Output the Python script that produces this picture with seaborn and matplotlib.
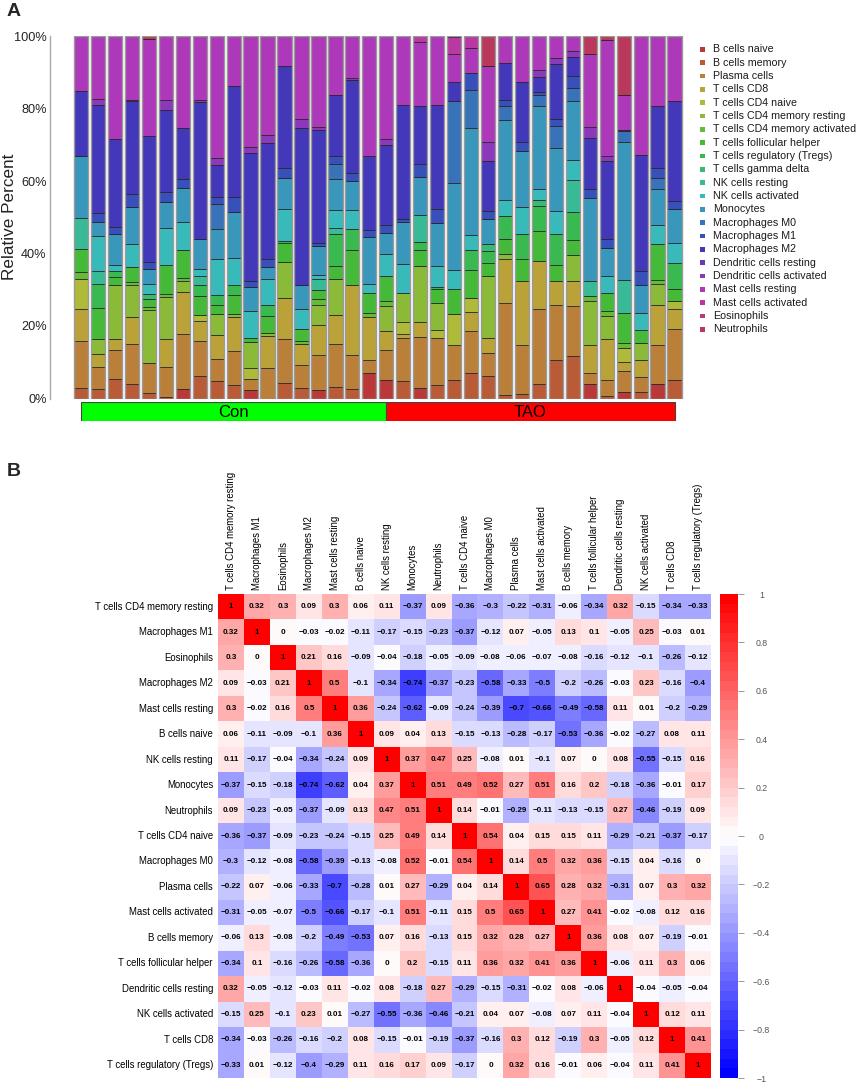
import numpy as np
import pandas as pd
import matplotlib
matplotlib.use("Agg")
import matplotlib.pyplot as plt
import seaborn as sns
from matplotlib.colors import LinearSegmentedColormap, hsv_to_rgb
from matplotlib.patches import Rectangle

# ---------------- Panel A data ----------------
cell_types = ["B cells naive", "B cells memory", "Plasma cells", "T cells CD8",
              "T cells CD4 naive", "T cells CD4 memory resting",
              "T cells CD4 memory activated", "T cells follicular helper",
              "T cells regulatory (Tregs)", "T cells gamma delta",
              "NK cells resting", "NK cells activated", "Monocytes",
              "Macrophages M0", "Macrophages M1", "Macrophages M2",
              "Dendritic cells resting", "Dendritic cells activated",
              "Mast cells resting", "Mast cells activated", "Eosinophils",
              "Neutrophils"]

# percent of each cell type per sample (same order as cell_types)
s1 = [0, 3.0, 13.0, 8.6, 8.3, 0, 2.0, 6.4, 0, 0, 8.6, 0, 17.1, 0, 0, 17.7, 0, 0, 15.3, 0, 0, 0]
s2 = [0, 2.6, 6.1, 3.5, 0, 4.1, 0, 8.8, 6.6, 0, 3.4, 9.7, 3.9, 0, 2.5, 29.9, 0, 1.6, 17.3, 0, 0, 0]
s3 = [0, 5.5, 7.8, 3.2, 0, 14.7, 0, 2.3, 1.6, 0, 0, 1.6, 8.8, 0, 1.8, 24.2, 0, 0, 28.5, 0, 0, 0]
s4 = [0, 4.1, 11.0, 7.4, 0, 8.7, 0.9, 4.2, 0, 0, 0, 6.4, 10.1, 0, 3.7, 25.5, 0, 0.4, 17.6, 0, 0, 0]
s5 = [0, 1.5, 8.4, 0, 0, 14.4, 0.9, 2.3, 0, 1.4, 0, 2.8, 3.9, 0, 2.1, 34.6, 0, 0, 27.0, 0, 0, 0.7]
s6 = [0, 0.3, 8.4, 7.8, 0, 11.5, 0.9, 8.0, 0, 0, 0, 10.2, 7.1, 0, 2.8, 22.5, 0, 2.8, 17.7, 0, 0, 0]
s7 = [2.7, 0, 15.2, 11.5, 0, 2.9, 0.9, 7.9, 0, 0, 0, 7.6, 9.5, 0, 2.3, 14.2, 0, 0, 25.3, 0, 0, 0]
s8 = [0, 6.1, 9.7, 5.5, 1.8, 0, 0, 5.3, 2.8, 0, 2.6, 1.8, 8.5, 0, 0, 37.7, 0, 0.6, 17.6, 0, 0, 0]
s9 = [0, 4.7, 6.1, 6.8, 0, 5.8, 0, 2.5, 2.7, 0, 0, 10.0, 8.1, 7.0, 1.9, 8.7, 0, 2.0, 33.7, 0, 0, 0]
s10 = [0, 3.8, 9.3, 9.4, 0, 0.9, 0, 5.2, 2.6, 0, 0, 7.6, 12.6, 0, 4.2, 30.6, 0, 0, 13.8, 0, 0, 0]
s11 = [2.3, 0, 3.2, 0, 2.9, 7.2, 0, 1.1, 0, 0, 0, 7.4, 6.7, 0, 1.5, 35.5, 0, 1.6, 30.6, 0, 0, 0]
s12 = [0, 0, 8.3, 9.0, 0, 0.8, 0, 4.6, 3.2, 0, 0, 7.0, 3.4, 0, 2.3, 32.0, 0, 2.0, 27.4, 0, 0, 0]
s13 = [0, 4.4, 11.9, 11.5, 0, 9.9, 0, 5.3, 0.4, 0, 0, 9.0, 8.5, 0, 2.7, 28.0, 0, 0, 8.4, 0, 0, 0]
s14 = [0, 2.9, 6.3, 5.9, 0, 0, 0.9, 3.3, 0, 0, 0, 5.5, 6.6, 0, 0, 43.3, 0, 2.3, 23.0, 0, 0, 0]
s15 = [2.3, 0, 9.8, 8.3, 0, 5.3, 1.8, 2.5, 0, 0, 3.0, 1.2, 7.8, 0, 0.9, 31.1, 0, 0.9, 25.1, 0, 0, 0]
s16 = [0, 3.2, 11.9, 7.9, 0, 10.1, 0, 3.4, 8.8, 0, 1.6, 5.0, 8.7, 4.0, 2.2, 17.0, 0, 0, 16.2, 0, 0, 0]
s17 = [0, 2.7, 9.4, 19.1, 0, 0, 0, 9.7, 5.8, 0, 0, 5.4, 7.9, 0, 2.3, 25.7, 0, 0.4, 11.6, 0, 0, 0]
s18 = [7.1, 0, 3.6, 11.8, 0, 0, 1.2, 5.5, 0, 0, 0, 2.3, 13.1, 0, 1.8, 20.5, 0, 0, 33.1, 0, 0, 0]
s19 = [5.0, 0, 8.3, 5.3, 0, 7.0, 1.3, 6.9, 0, 0, 0, 6.2, 5.7, 0, 2.1, 22.2, 0, 1.5, 28.5, 0, 0, 0]
s20 = [0, 4.8, 12.0, 1.1, 3.2, 7.9, 0, 0, 0, 0, 0, 8.0, 11.7, 0, 0.7, 31.7, 0, 0, 18.9, 0, 0, 0]
s21 = [3.0, 0, 14.0, 4.1, 0, 15.4, 0, 4.4, 2.3, 0, 7.3, 0, 10.6, 0, 3.7, 15.9, 0, 0, 17.6, 1.7, 0, 0]
s22 = [0, 3.7, 13.0, 0, 2.1, 7.6, 0, 3.9, 0.5, 0, 0, 5.7, 11.8, 0, 4.1, 28.7, 0, 0, 18.9, 0, 0, 0]
s23 = [0, 5.0, 9.7, 0, 8.7, 0, 0, 6.9, 0, 0, 0, 5.2, 24.0, 22.7, 0, 5.1, 0, 0, 7.6, 4.8, 0, 0.3]
s24 = [0, 6.9, 11.6, 5.4, 3.7, 0, 0, 7.8, 5.5, 0, 0, 4.1, 29.7, 10.5, 4.6, 0, 0, 0, 6.8, 3.4, 0, 0]
s25 = [0, 6.1, 6.5, 4.1, 0, 17.1, 0, 3.6, 3.2, 2.1, 0, 0, 6.9, 0, 2.0, 13.8, 0, 5.4, 20.8, 0, 0, 8.4]
s26 = [0, 1.1, 25.3, 12.2, 0, 1.4, 0, 3.9, 6.4, 0, 0, 4.5, 22.1, 3.8, 1.7, 10.2, 0, 0, 7.4, 0, 0, 0]
s27 = [0, 1.3, 13.4, 17.6, 0, 0, 0, 6.3, 6.7, 0, 0, 7.4, 15.5, 0, 2.6, 16.6, 0, 0, 12.6, 0, 0, 0]
s28 = [0, 4.1, 20.5, 13.3, 0, 0, 0, 8.3, 6.9, 1.6, 0, 3.2, 22.8, 3.0, 0.9, 4.1, 0, 1.8, 9.5, 0, 0, 0]
s29 = [0, 10.6, 15.3, 6.5, 0, 0, 0, 4.4, 8.7, 0, 0, 6.2, 17.4, 6.0, 2.1, 15.2, 0, 1.4, 6.2, 0, 0, 0]
s30 = [0, 11.8, 13.7, 6.8, 0, 7.2, 0, 4.2, 7.8, 0, 8.9, 5.3, 16.5, 3.5, 3.2, 5.3, 0, 1.7, 4.1, 0, 0, 0]
s31 = [4.1, 0, 2.8, 7.8, 0, 12.2, 1.3, 0, 0, 0, 4.2, 0, 23.0, 0, 2.5, 14.0, 0, 3.0, 20.0, 0, 0, 5.1]
s32 = [0, 0.6, 4.6, 11.1, 0, 6.5, 1.3, 4.9, 0, 0, 0, 4.7, 7.7, 0, 2.5, 21.5, 0, 1.5, 31.9, 0, 0, 1.2]
s33 = [1.8, 0, 5.7, 2.6, 3.7, 0, 1.4, 8.5, 0, 0, 9.1, 0, 38.0, 2.9, 0, 0.5, 0, 0, 9.6, 0, 0, 16.2]
s34 = [0, 1.7, 4.2, 4.6, 0, 4.8, 0, 3.5, 0, 0, 0, 4.8, 7.6, 0, 4.0, 31.9, 0, 0, 32.9, 0, 0, 0]
s35 = [3.9, 0, 10.8, 11.0, 0, 5.8, 1.1, 9.9, 0, 0, 0, 5.5, 9.9, 3.0, 2.7, 17.1, 0, 0, 19.3, 0, 0, 0]
s36 = [0, 5.0, 14.3, 5.5, 2.1, 0, 0, 3.2, 7.3, 0, 0, 5.5, 9.5, 0, 2.0, 27.6, 0, 0, 18.0, 0, 0, 0]

samples = [s1, s2, s3, s4, s5, s6, s7, s8, s9, s10, s11, s12, s13, s14, s15, s16, s17, s18,
           s19, s20, s21, s22, s23, s24, s25, s26, s27, s28, s29, s30, s31, s32, s33, s34, s35, s36]

group_names = ["Con", "TAO"]
group_sizes = [18, 18]
group_colors = ["#00FF00", "#FF0000"]
y_ticks = [0, 20, 40, 60, 80, 100]

# ---------------- Panel B data ----------------
heat_labels = ["T cells CD4 memory resting", "Macrophages M1", "Eosinophils",
               "Macrophages M2", "Mast cells resting", "B cells naive",
               "NK cells resting", "Monocytes", "Neutrophils", "T cells CD4 naive",
               "Macrophages M0", "Plasma cells", "Mast cells activated",
               "B cells memory", "T cells follicular helper",
               "Dendritic cells resting", "NK cells activated", "T cells CD8",
               "T cells regulatory (Tregs)"]

r1 = [1, 0.32, 0.3, 0.09, 0.3, 0.06, 0.11, -0.37, 0.09, -0.36, -0.3, -0.22, -0.31, -0.06, -0.34, 0.32, -0.15, -0.34, -0.33]
r2 = [0.32, 1, 0, -0.03, -0.02, -0.11, -0.17, -0.15, -0.23, -0.37, -0.12, 0.07, -0.05, 0.13, 0.1, -0.05, 0.25, -0.03, 0.01]
r3 = [0.3, 0, 1, 0.21, 0.16, -0.09, -0.04, -0.18, -0.05, -0.09, -0.08, -0.06, -0.07, -0.08, -0.16, -0.12, -0.1, -0.26, -0.12]
r4 = [0.09, -0.03, 0.21, 1, 0.5, -0.1, -0.34, -0.74, -0.37, -0.23, -0.58, -0.33, -0.5, -0.2, -0.26, -0.03, 0.23, -0.16, -0.4]
r5 = [0.3, -0.02, 0.16, 0.5, 1, 0.36, -0.24, -0.62, -0.09, -0.24, -0.39, -0.7, -0.66, -0.49, -0.58, 0.11, 0.01, -0.2, -0.29]
r6 = [0.06, -0.11, -0.09, -0.1, 0.36, 1, 0.09, 0.04, 0.13, -0.15, -0.13, -0.28, -0.17, -0.53, -0.36, -0.02, -0.27, 0.08, 0.11]
r7 = [0.11, -0.17, -0.04, -0.34, -0.24, 0.09, 1, 0.37, 0.47, 0.25, -0.08, 0.01, -0.1, 0.07, 0, 0.08, -0.55, -0.15, 0.16]
r8 = [-0.37, -0.15, -0.18, -0.74, -0.62, 0.04, 0.37, 1, 0.51, 0.49, 0.52, 0.27, 0.51, 0.16, 0.2, -0.18, -0.36, -0.01, 0.17]
r9 = [0.09, -0.23, -0.05, -0.37, -0.09, 0.13, 0.47, 0.51, 1, 0.14, -0.01, -0.29, -0.11, -0.13, -0.15, 0.27, -0.46, -0.19, 0.09]
r10 = [-0.36, -0.37, -0.09, -0.23, -0.24, -0.15, 0.25, 0.49, 0.14, 1, 0.54, 0.04, 0.15, 0.15, 0.11, -0.29, -0.21, -0.37, -0.17]
r11 = [-0.3, -0.12, -0.08, -0.58, -0.39, -0.13, -0.08, 0.52, -0.01, 0.54, 1, 0.14, 0.5, 0.32, 0.36, -0.15, 0.04, -0.16, 0]
r12 = [-0.22, 0.07, -0.06, -0.33, -0.7, -0.28, 0.01, 0.27, -0.29, 0.04, 0.14, 1, 0.65, 0.28, 0.32, -0.31, 0.07, 0.3, 0.32]
r13 = [-0.31, -0.05, -0.07, -0.5, -0.66, -0.17, -0.1, 0.51, -0.11, 0.15, 0.5, 0.65, 1, 0.27, 0.41, -0.02, -0.08, 0.12, 0.16]
r14 = [-0.06, 0.13, -0.08, -0.2, -0.49, -0.53, 0.07, 0.16, -0.13, 0.15, 0.32, 0.28, 0.27, 1, 0.36, 0.08, 0.07, -0.19, -0.01]
r15 = [-0.34, 0.1, -0.16, -0.26, -0.58, -0.36, 0, 0.2, -0.15, 0.11, 0.36, 0.32, 0.41, 0.36, 1, -0.06, 0.11, 0.3, 0.06]
r16 = [0.32, -0.05, -0.12, -0.03, 0.11, -0.02, 0.08, -0.18, 0.27, -0.29, -0.15, -0.31, -0.02, 0.08, -0.06, 1, -0.04, -0.05, -0.04]
r17 = [-0.15, 0.25, -0.1, 0.23, 0.01, -0.27, -0.55, -0.36, -0.46, -0.21, 0.04, 0.07, -0.08, 0.07, 0.11, -0.04, 1, 0.12, 0.11]
r18 = [-0.34, -0.03, -0.26, -0.16, -0.2, 0.08, -0.15, -0.01, -0.19, -0.37, -0.16, 0.3, 0.12, -0.19, 0.3, -0.05, 0.12, 1, 0.41]
r19 = [-0.33, 0.01, -0.12, -0.4, -0.29, 0.11, 0.16, 0.17, 0.09, -0.17, 0, 0.32, 0.16, -0.01, 0.06, -0.04, 0.11, 0.41, 1]
corr_rows = [r1, r2, r3, r4, r5, r6, r7, r8, r9, r10, r11, r12, r13, r14, r15, r16, r17, r18, r19]
cbar_ticks = [-1, -0.8, -0.6, -0.4, -0.2, 0, 0.2, 0.4, 0.6, 0.8, 1]

# ---------------- styling ----------------
sns.set_style("white")
plt.rcParams["font.family"] = ["Liberation Sans", "DejaVu Sans"]

W, H = 858, 1092
fig = plt.figure(figsize=(W / 100, H / 100), dpi=100)


def box(x0, y0, x1, y1):
    return [x0 / W, 1 - y1 / H, (x1 - x0) / W, (y1 - y0) / H]


n_types = len(cell_types)
colors = [hsv_to_rgb((j / n_types, 0.70, 0.73)) for j in range(n_types)]

# ---------------- Panel A ----------------
axA = fig.add_axes(box(50, 36, 690, 398.5))
data = np.array(samples, dtype=float)
data = data / data.sum(axis=1, keepdims=True) * 100
n = data.shape[0]
xpos = np.arange(n)
bottom = np.zeros(n)
for j in range(n_types):
    axA.bar(xpos, data[:, j], bottom=bottom, width=0.84, color=colors[j],
            edgecolor="#262626", linewidth=0.55)
    bottom += data[:, j]
axA.bar(xpos, bottom, width=0.84, fill=False, edgecolor="#9a9a9a", linewidth=1.0)

xl = (-1.83, n - 1 + 0.91)
axA.set_xlim(*xl)
axA.set_ylim(0, 100)
axA.set_xticks([])
axA.set_yticks(y_ticks)
axA.set_yticklabels([f"{v}%" for v in y_ticks], fontsize=9.2, color="#222222")
axA.tick_params(axis="y", length=2, width=0.8, pad=0.5, color="#9a9a9a")
for s in ["top", "right", "bottom"]:
    axA.spines[s].set_visible(False)
axA.spines["left"].set_color("#a8a8a8")
axA.spines["left"].set_linewidth(1.0)
axA.set_ylabel("Relative Percent", fontsize=12.3, color="#222222")
axA.yaxis.set_label_coords(-0.052, 0.5)

# group bar
axG = fig.add_axes(box(50, 402, 690, 421))
axG.set_xlim(*xl)
axG.set_ylim(0, 1)
axG.axis("off")
start = 0
for name, size, col in zip(group_names, group_sizes, group_colors):
    end = min(start + size, n - 1)
    axG.barh(0.5, end - start, left=start, height=1.0, color=col,
             edgecolor="#444444", linewidth=0.8)
    axG.text((start + end) / 2, 0.47, name, ha="center", va="center",
             fontsize=12, color="black")
    start += size

# legend
for j, ct in enumerate(cell_types):
    yc = 49.3 + j * 13.33
    fig.patches.append(Rectangle(((700) / W, 1 - (yc + 2.3) / H), 4.6 / W, 4.6 / H,
                                 transform=fig.transFigure, facecolor=colors[j],
                                 edgecolor="none"))
    fig.text(713 / W, 1 - yc / H, ct, fontsize=7.7, va="center", ha="left",
             color="#1a1a1a")

fig.text(7 / W, 1 - 11 / H, "A", fontsize=14, fontweight="bold", va="center", ha="left")
fig.text(7 / W, 1 - 472 / H, "B", fontsize=14, fontweight="bold", va="center", ha="left")

# ---------------- Panel B ----------------
axH = fig.add_axes(box(218, 594, 711, 1078))
cax = fig.add_axes(box(720, 594, 738, 1078))
corr = np.array(corr_rows, dtype=float)
df = pd.DataFrame(corr, index=heat_labels, columns=heat_labels)
annot = np.array([[f"{v:g}".replace("-", "\u2212") for v in row] for row in corr])
cmap = LinearSegmentedColormap.from_list("bwr_custom", ["#0000FF", "#FFFFFF", "#FF0000"], N=50)
sns.heatmap(df, ax=axH, cbar_ax=cax, cmap=cmap, vmin=-1, vmax=1,
            annot=annot, fmt="", annot_kws=dict(fontsize=5.8, fontweight="bold", color="black"),
            linewidths=0, xticklabels=heat_labels, yticklabels=heat_labels)
axH.xaxis.tick_top()
axH.set_xticklabels(heat_labels, rotation=90, fontsize=6.9, color="black")
axH.set_yticklabels(heat_labels, rotation=0, fontsize=6.9, color="black")
axH.tick_params(axis="x", length=0, pad=3)
axH.tick_params(axis="y", length=0, pad=3.6)
axH.set_xlabel("")
axH.set_ylabel("")

cbar = axH.collections[0].colorbar
cbar.outline.set_visible(False)
cbar.set_ticks(cbar_ticks)
cbar.set_ticklabels([f"{v:g}".replace("-", "\u2212") for v in cbar_ticks])
cax.tick_params(axis="y", length=4, width=0.6, color="#888888", labelsize=6.3,
                labelcolor="#555555", pad=12.8)
for lab in cax.get_yticklabels():
    lab.set_horizontalalignment("center")

fig.savefig("out.png", dpi=100)
